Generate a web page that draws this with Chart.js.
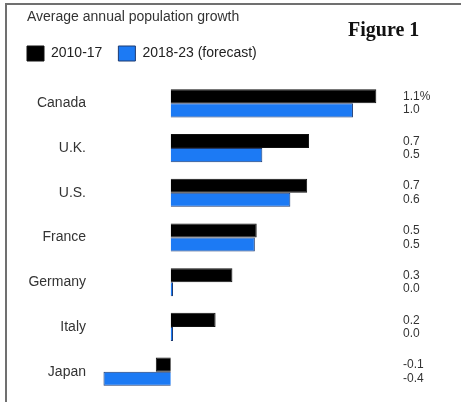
<!DOCTYPE html>
<html>
<head>
<meta charset="utf-8">
<script src="https://cdn.jsdelivr.net/npm/chart.js@4/dist/chart.umd.min.js"></script>
<style>
  html, body { margin: 0; padding: 0; background: #fff; }
  #wrap { position: relative; width: 461px; height: 402px; overflow: hidden; }
  #c { position: absolute; left: 0; top: 0; }
  #frame { position: absolute; left: 5px; top: 3px; right: 0; bottom: 0;
           border-top: 2px solid #707070; border-left: 2px solid #707070; pointer-events: none; }
  #title { position: absolute; left: 27px; top: 8px; font: 14px "Liberation Sans", Arial, sans-serif;
           line-height: 16px; color: #333; white-space: nowrap; }
  #fig { position: absolute; left: 348px; top: 18px; font: bold 20px "Liberation Serif", "Times New Roman", serif;
         line-height: 22px; color: #111; white-space: nowrap; }
</style>
</head>
<body>
<div id="wrap">
  <canvas id="c" width="461" height="402"></canvas>
  <div id="title">Average annual population growth</div>
  <div id="fig">Figure 1</div>
  <div id="frame"></div>
</div>
<script>
const categories = ["Canada", "U.K.", "U.S.", "France", "Germany", "Italy", "Japan"];
const seriesNames = ["2010-17", "2018-23 (forecast)"];
const growth2010_17 = [1.10, 0.74, 0.73, 0.46, 0.33, 0.24, -0.08];
const growth2018_23 = [0.975, 0.49, 0.64, 0.45, 0.012, 0.012, -0.36];
const labels2010_17 = ["1.1%", "0.7", "0.7", "0.5", "0.3", "0.2", "-0.1"];
const labels2018_23 = ["1.0", "0.5", "0.6", "0.5", "0.0", "0.0", "-0.4"];

const valueLabels = categories.map((c, i) => [labels2010_17[i], labels2018_23[i]]);

new Chart(document.getElementById('c'), {
  type: 'bar',
  data: {
    labels: categories,
    datasets: [
      { label: seriesNames[0], data: growth2010_17, backgroundColor: '#000000', borderColor: '#111111', borderWidth: 1 },
      { label: seriesNames[1], data: growth2018_23, backgroundColor: '#1c7af4', borderColor: '#1d3a70', borderWidth: 1 }
    ]
  },
  options: {
    indexAxis: 'y',
    responsive: false,
    animation: false,
    layout: { padding: { left: 11, right: 0, top: 30, bottom: 8 } },
    datasets: { bar: { categoryPercentage: 0.63, barPercentage: 1.0 } },
    plugins: {
      title: { display: false },
      tooltip: { enabled: false },
      legend: {
        display: true,
        position: 'top',
        align: 'start',
        labels: {
          boxWidth: 17, boxHeight: 15, padding: 16, color: '#222',
          font: { family: '"Liberation Sans", Arial, sans-serif', size: 14 }
        }
      }
    },
    scales: {
      x: {
        position: 'top',
        min: -0.4, max: 1.2,
        display: true,
        grid: { display: false, drawTicks: false },
        border: { display: false },
        ticks: { display: false },
        afterFit: (s) => { s.height = 10; s.paddingLeft = 0; s.paddingRight = 0; }
      },
      y: {
        position: 'left',
        grid: { display: false, drawTicks: false },
        border: { display: false },
        ticks: { color: '#333', padding: 10, font: { family: '"Liberation Sans", Arial, sans-serif', size: 14 } },
        afterFit: (s) => { s.width = 85; s.paddingTop = 0; s.paddingBottom = 0; }
      },
      y2: {
        type: 'category',
        axis: 'y',
        position: 'right',
        offset: true,
        labels: valueLabels,
        grid: { display: false, drawTicks: false },
        border: { display: false },
        ticks: { color: '#333', padding: 8, font: { family: '"Liberation Sans", Arial, sans-serif', size: 12, lineHeight: 1.12 } },
        afterFit: (s) => { s.width = 66; s.paddingTop = 0; s.paddingBottom = 0; }
      }
    }
  }
});
</script>
</body>
</html>
